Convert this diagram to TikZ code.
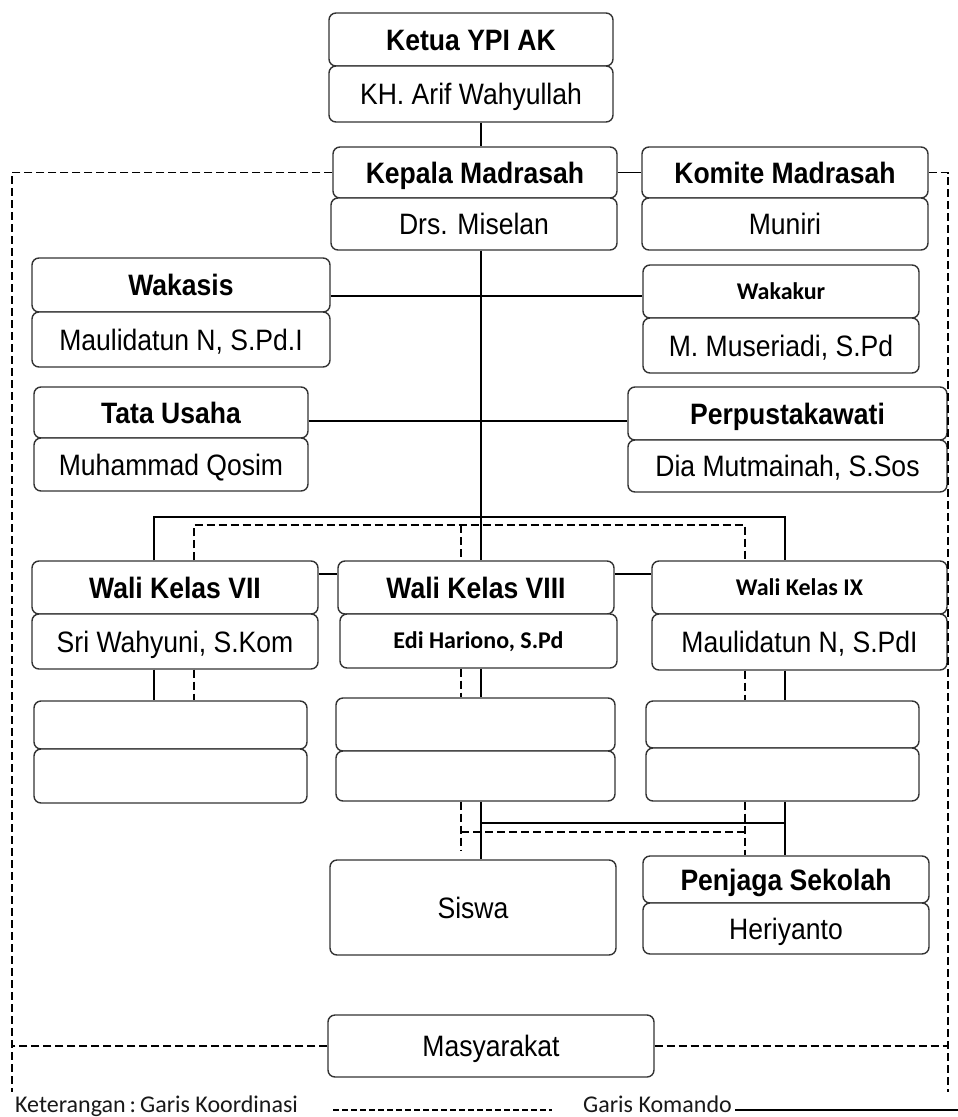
\documentclass[tikz,border=0pt]{standalone}
\usepackage{fontspec}
\setmainfont{Liberation Sans}[FakeStretch=0.9]
\newfontfamily\calfont{Carlito}
\begin{document}
\begin{tikzpicture}[x=1pt,y=-1pt,
  bx/.style={draw=black!80, line width=1.4pt, rounded corners=7pt, inner sep=0pt, fill=white, text height=21pt, text depth=0pt, font=\fontsize{29.5}{32}\selectfont},
  bbx/.style={bx, font=\fontsize{29.5}{32}\selectfont\bfseries},
  cbx/.style={bx, text height=15.5pt, font=\fontsize{24}{28}\selectfont\calfont\bfseries},
  cmd/.style={draw=black, line width=1.5pt},
  crd/.style={draw=black, line width=1.5pt, dash pattern=on 8pt off 4pt},
  lgd/.style={inner sep=0pt, font=\fontsize{24}{28}\selectfont\calfont, text=black!90}]
\useasboundingbox (0,0) rectangle (958,1117);
\fill[white] (0,0) rectangle (958,1117);
% boxes
\node[bbx, minimum width=284pt, minimum height=53pt] (ketua) at (471,39.5) {Ketua YPI AK};
\node[bx, minimum width=284pt, minimum height=56pt] (arif) at (471,94) {KH. Arif Wahyullah};
\node[bbx, minimum width=284pt, minimum height=51pt] (kepala) at (475,172.5) {Kepala Madrasah};
\node[bx, minimum width=286pt, minimum height=52pt] (miselan) at (474,224) {Drs. Miselan};
\node[bbx, minimum width=286pt, minimum height=51pt] (komite) at (785,172.5) {Komite Madrasah};
\node[bx, minimum width=286pt, minimum height=52pt] (muniri) at (785,224) {Muniri};
\node[bbx, minimum width=298pt, minimum height=54pt] (wakasis) at (181,285) {Wakasis};
\node[bx, minimum width=298pt, minimum height=55pt] (maul1) at (181,339.5) {Maulidatun N, S.Pd.I};
\node[cbx, minimum width=276pt, minimum height=53pt] (wakakur) at (781,291.5) {Wakakur};
\node[bx, minimum width=276pt, minimum height=55pt] (museriadi) at (781,345.5) {M. Museriadi, S.Pd};
\node[bbx, minimum width=274pt, minimum height=51pt] (tata) at (171,412.5) {Tata Usaha};
\node[bx, minimum width=274pt, minimum height=53pt] (qosim) at (171,464.5) {Muhammad Qosim};
\node[bbx, minimum width=319pt, minimum height=53pt] (perpus) at (787.5,413.5) {Perpustakawati};
\node[bx, minimum width=319pt, minimum height=52pt] (dia) at (787.5,466) {Dia Mutmainah, S.Sos};
\node[bbx, minimum width=286pt, minimum height=53pt] (wali7) at (175,587.5) {Wali Kelas VII};
\node[bx, minimum width=286pt, minimum height=55pt] (sri) at (175,641.5) {Sri Wahyuni, S.Kom};
\node[bbx, minimum width=276pt, minimum height=53pt] (wali8) at (476,587.5) {Wali Kelas VIII};
\node[cbx, minimum width=277pt, minimum height=54pt] (edi) at (478.5,641) {Edi Hariono, S.Pd};
\node[cbx, minimum width=295pt, minimum height=53pt] (wali9) at (799.5,587.5) {Wali Kelas IX};
\node[bx, minimum width=295pt, minimum height=56pt] (maul2) at (799.5,642) {Maulidatun N, S.PdI};
\node[bx, minimum width=273pt, minimum height=48pt] (e7a) at (170.5,725) {};
\node[bx, minimum width=273pt, minimum height=54pt] (e7b) at (170.5,776) {};
\node[bx, minimum width=279pt, minimum height=53pt] (e8a) at (475.5,724.5) {};
\node[bx, minimum width=279pt, minimum height=50pt] (e8b) at (475.5,776) {};
\node[bx, minimum width=273pt, minimum height=47pt] (e9a) at (782.5,724.5) {};
\node[bx, minimum width=273pt, minimum height=53pt] (e9b) at (782.5,774.5) {};
\node[bx, minimum width=286pt, minimum height=95pt] (siswa) at (473,907.5) {Siswa};
\node[bbx, minimum width=286pt, minimum height=47pt] (penjaga) at (786,879.5) {Penjaga Sekolah};
\node[bx, minimum width=286pt, minimum height=51pt] (heri) at (786,928.5) {Heriyanto};
\node[bx, minimum width=326pt, minimum height=62pt] (masy) at (491,1046) {Masyarakat};
% helper coordinates
\coordinate (sp) at (481,0);
\coordinate (ca) at (154,517);
\coordinate (cb) at (785,517);
\coordinate (da) at (194,525);
\coordinate (db) at (745,525);
\coordinate (dc) at (461,525);
\coordinate (hw) at (0,296);
\coordinate (ht) at (0,421);
\coordinate (wl) at (0,574);
\coordinate (hs) at (0,823);
\coordinate (hd) at (0,832);
\coordinate (de) at (461,850);
\coordinate (bl) at (12,1092);
\coordinate (br) at (948,1092);
% command lines
\draw[cmd] (arif.south -| sp) -- (kepala.north -| sp);
\draw[cmd] (kepala.east) -- (komite.west);
\draw[cmd] (miselan.south -| sp) -- (wali8.north -| sp);
\draw[cmd] (wakasis.east |- hw) -- (wakakur.west |- hw);
\draw[cmd] (tata.east |- ht) -- (perpus.west |- ht);
\draw[cmd] (wali7.north -| ca) -- (ca) -- (cb) -- (wali9.north -| cb);
\draw[cmd] (wali7.east |- wl) -- (wali8.west |- wl);
\draw[cmd] (wali8.east |- wl) -- (wali9.west |- wl);
\draw[cmd] (sri.south -| ca) -- (e7a.north -| ca);
\draw[cmd] (edi.south -| sp) -- (e8a.north -| sp);
\draw[cmd] (maul2.south -| cb) -- (e9a.north -| cb);
\draw[cmd] (e8b.south -| sp) -- (siswa.north -| sp);
\draw[cmd] (e9b.south -| cb) -- (penjaga.north -| cb);
\draw[cmd] (hs -| sp) -- (hs -| cb);
% coordination lines
\draw[crd] (kepala.west) -| (bl);
\draw[crd] (komite.east) -| (br);
\draw[crd] (masy.west) -- (masy.west -| bl);
\draw[crd] (masy.east) -- (masy.east -| br);
\draw[crd] (wali7.north -| da) -- (da) -- (db) -- (wali9.north -| db);
\draw[crd] (dc) -- (wali8.north -| dc);
\draw[crd] (sri.south -| da) -- (e7a.north -| da);
\draw[crd] (edi.south -| dc) -- (e8a.north -| dc);
\draw[crd] (maul2.south -| db) -- (e9a.north -| db);
\draw[crd] (e8b.south -| dc) -- (de);
\draw[crd] (e9b.south -| db) -- (penjaga.north -| db);
\draw[crd] (hd -| dc) -- (hd -| db);
% legend
\node[lgd, anchor=base west] (ket) at (15,1112) {Keterangan\,:\,Garis Koordinasi};
\node[lgd, anchor=base west] (kom) at (583,1112) {Garis Komando};
\coordinate (l1a) at (333,1110);
\coordinate (l1b) at (552,1110);
\coordinate (l2b) at (958,1110);
\draw[line width=1.3pt, dash pattern=on 6pt off 3pt] (l1a) -- (l1b);
\draw[line width=1.3pt] (kom.east |- l2b) ++(3,0) -- (l2b);
\end{tikzpicture}
\end{document}
